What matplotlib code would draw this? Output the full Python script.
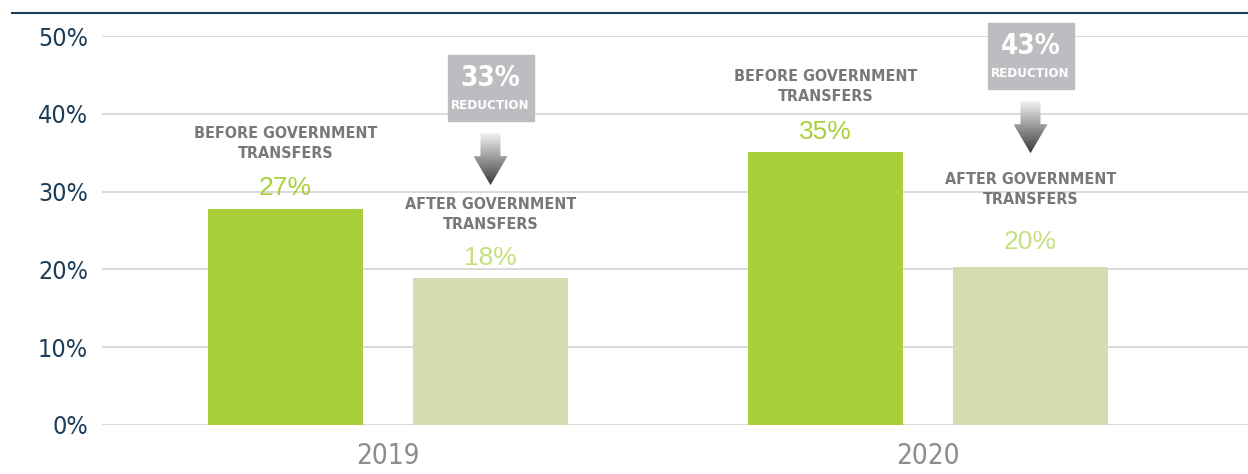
import numpy as np
import matplotlib
matplotlib.use('Agg')
import matplotlib.pyplot as plt
from matplotlib.patches import Polygon, Rectangle
from matplotlib.lines import Line2D

# Share of people in poverty, before / after government transfers
years = ['2019', '2020']
before = [27.8, 35.1]
after = [18.9, 20.3]
before_labels = ['27%', '35%']
after_labels = ['18%', '20%']
reductions = ['33%', '43%']
yticks = [0, 10, 20, 30, 40, 50]

GREEN = '#a9d03a'
PALE = '#d4ddb0'
PCT_PALE = '#c7df7d'
GRAY_TXT = '#77787b'
NAVY = '#1d3c57'
BOX = '#bcbdc0'

COND = dict(family=['DejaVu Sans'], fontstretch='condensed')

W, H = 1248, 474
fig = plt.figure(figsize=(W / 100, H / 100), dpi=100)
ax = fig.add_axes([102 / W, 1 - 425 / H, 1 - 102 / W, (425 - 36) / H])

# px -> data scale
px_x = 1 / 540
px_y = 50 / (425 - 36)

x = np.arange(len(years))
off = 102.5 * px_x
width = 155 * px_x

ax.bar(x - off, before, width, color=GREEN, zorder=2)
ax.bar(x + off, after, width, color=PALE, zorder=2)

ax.set_ylim(0, 50)
ax.set_yticks(yticks)
ax.set_yticklabels([f'{t}%' for t in yticks], fontsize=18, color=NAVY, **COND)
ax.tick_params(axis='y', length=0, pad=10)
ax.set_xticks(x)
ax.set_xticklabels(years, fontsize=20, color='#8a8c8e', **COND)
ax.tick_params(axis='x', length=0, pad=12)
ax.grid(axis='y', color='#d3d3d3', linewidth=1.2, zorder=0)
for s in ax.spines.values():
    s.set_visible(False)

# labels above bars
lab_style = dict(ha='center', va='center', fontsize=11.5, fontweight='bold',
                 color=GRAY_TXT, linespacing=1.4, **COND)
pct_style = dict(ha='center', va='center', fontsize=19, family=['Liberation Sans', 'DejaVu Sans'])
after_text_off = [8.2, 10.0]
after_pct_off = [2.6, 3.2]
for i in range(len(years)):
    ax.text(x[i] - off, before[i] + 8.4, 'BEFORE GOVERNMENT\nTRANSFERS', **lab_style)
    ax.text(x[i] - off, before[i] + 2.6, before_labels[i], color=GREEN, **pct_style)
    ax.text(x[i] + off, after[i] + after_text_off[i], 'AFTER GOVERNMENT\nTRANSFERS', **lab_style)
    ax.text(x[i] + off, after[i] + after_pct_off[i], after_labels[i], color=PCT_PALE, **pct_style)

# reduction boxes with gradient arrows
box_y = [43.3, 47.4]
grad = np.linspace(0, 1, 256).reshape(-1, 1)
cmap = matplotlib.colors.LinearSegmentedColormap.from_list('g', ['#f2f2f2', '#3a3a3a'])
for i in range(len(years)):
    cx = x[i] + off
    cy = box_y[i]
    bw, bh = 86 * px_x, 66 * px_y
    ax.add_patch(Rectangle((cx - bw / 2, cy - bh / 2), bw, bh, color=BOX,
                           clip_on=False, zorder=3))
    ax.text(cx, cy + 10 * px_y, reductions[i], ha='center', va='center', color='white',
            fontsize=20, fontweight='bold', zorder=4, clip_on=False, **COND)
    ax.text(cx, cy - 17 * px_y, 'REDUCTION', ha='center', va='center', color='white',
            fontsize=9.5, fontweight='bold', zorder=4, clip_on=False, **COND)

    top = cy - 45 * px_y
    neck = cy - 68 * px_y
    tip = cy - 97 * px_y
    sw, hw = 10 * px_x, 17 * px_x
    verts = [(cx - sw, top), (cx + sw, top), (cx + sw, neck), (cx + hw, neck),
             (cx, tip), (cx - hw, neck), (cx - sw, neck)]
    poly = Polygon(verts, closed=True, facecolor='none', edgecolor='none')
    ax.add_patch(poly)
    im = ax.imshow(grad, extent=[cx - hw, cx + hw, tip, top], aspect='auto',
                   cmap=cmap, origin='upper', zorder=3)
    im.set_clip_path(poly)

ax.set_xlim(-286 * px_x, (W - 388) * px_x)
ax.set_ylim(0, 50)

# top rule
fig.add_artist(Line2D([12 / W, 1], [1 - 13 / H, 1 - 13 / H], color='#1d3c57', linewidth=1.5))

fig.savefig('out.png', dpi=100)
